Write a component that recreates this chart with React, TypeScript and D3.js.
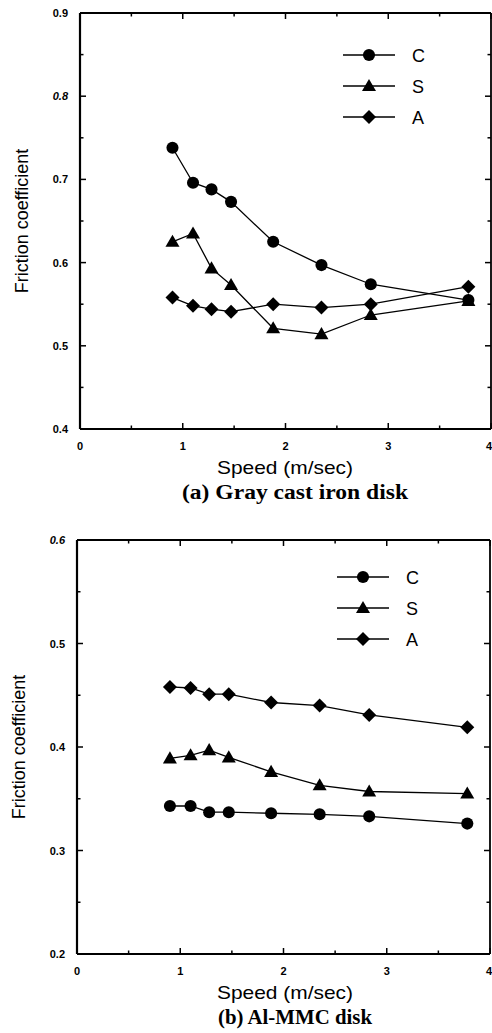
import * as d3 from "d3";

const speeds = [0.9, 1.1, 1.28, 1.47, 1.88, 2.35, 2.83, 3.78];

const grayC = [0.738, 0.696, 0.688, 0.673, 0.625, 0.597, 0.574, 0.555];
const grayS = [0.625, 0.635, 0.593, 0.573, 0.521, 0.514, 0.537, 0.554];
const grayA = [0.558, 0.548, 0.544, 0.541, 0.550, 0.546, 0.550, 0.571];

const mmcC = [0.343, 0.343, 0.337, 0.337, 0.336, 0.335, 0.333, 0.326];
const mmcS = [0.389, 0.392, 0.397, 0.390, 0.376, 0.363, 0.357, 0.355];
const mmcA = [0.458, 0.457, 0.451, 0.451, 0.443, 0.440, 0.431, 0.419];

const seriesNames = ["C", "S", "A"];
const markerKinds = ["circle", "triangle", "diamond"];

const xTicks = [0, 1, 2, 3, 4];
const xMinor = [0.5, 1.5, 2.5, 3.5];
const grayYTicks = ["0.4", "0.5", "0.6", "0.7", "0.8", "0.9"];
const mmcYTicks = ["0.2", "0.3", "0.4", "0.5", "0.6"];
const italicLabels = ["0.8-a", "0.6-b"];

const W = 492;
const H = 1033;
const SANS = "'Liberation Sans', Arial, sans-serif";
const SERIF = "'Liberation Serif', 'Times New Roman', serif";

function markerPath(kind: string) {
  if (kind === "circle") return d3.symbol(d3.symbolCircle, 115)()!;
  if (kind === "triangle") return d3.symbol(d3.symbolTriangle, 85)()!;
  return d3.symbol(d3.symbolSquare, 98)()!;
}

function Marker({ kind, x, y }: { kind: string; x: number; y: number }) {
  const rot = kind === "diamond" ? " rotate(45)" : "";
  const dy = kind === "triangle" ? 1 : 0;
  return <path d={markerPath(kind)} transform={`translate(${x},${y + dy})${rot}`} fill="#000" />;
}

type PanelProps = {
  id: string;
  left: number;
  right: number;
  top: number;
  bottom: number;
  yTicks: string[];
  series: number[][];
  legendX: number;
  legendY: number;
  caption: string;
  captionWidth: number;
};

function Panel(p: PanelProps) {
  const yMin = +p.yTicks[0];
  const yMax = +p.yTicks[p.yTicks.length - 1];
  const x = d3.scaleLinear().domain([0, 4]).range([p.left, p.right]);
  const y = d3.scaleLinear().domain([yMin, yMax]).range([p.bottom, p.top]);
  const yMinor = p.yTicks.slice(0, -1).map((t) => +t + 0.05);
  const line = d3
    .line<number>()
    .x((_, i) => x(speeds[i]))
    .y((d) => y(d));
  const cx = 285;

  return (
    <g>
      {/* frame */}
      <line x1={p.left} x2={p.left} y1={p.top} y2={p.bottom} stroke="#000" strokeWidth={2.2} />
      <line x1={p.left} x2={p.right} y1={p.bottom} y2={p.bottom} stroke="#000" strokeWidth={2.2} />
      <line x1={p.left} x2={p.right} y1={p.top} y2={p.top} stroke="#000" strokeWidth={1.8} />
      <line x1={p.right} x2={p.right} y1={p.top} y2={p.bottom} stroke="#000" strokeWidth={1.8} />

      {/* x ticks */}
      {xTicks.map((t) => (
        <g key={"xt" + t}>
          <line x1={x(t)} x2={x(t)} y1={p.bottom} y2={p.bottom - 6} stroke="#000" strokeWidth={1.5} />
          <line x1={x(t)} x2={x(t)} y1={p.top} y2={p.top + 6} stroke="#000" strokeWidth={1.5} />
          <text
            x={t === 4 ? W : x(t)}
            y={p.bottom + 21}
            textAnchor={t === 4 ? "end" : "middle"}
            fontFamily={SANS}
            fontWeight="bold"
            fontSize={11}
          >
            {t}
          </text>
        </g>
      ))}
      {xMinor.map((t) => (
        <g key={"xm" + t}>
          <line x1={x(t)} x2={x(t)} y1={p.bottom} y2={p.bottom - 3.5} stroke="#000" strokeWidth={1.5} />
          <line x1={x(t)} x2={x(t)} y1={p.top} y2={p.top + 3.5} stroke="#000" strokeWidth={1.5} />
        </g>
      ))}

      {/* y ticks */}
      {p.yTicks.map((t) => (
        <g key={"yt" + t}>
          <line x1={p.left} x2={p.left + 6} y1={y(+t)} y2={y(+t)} stroke="#000" strokeWidth={1.5} />
          <line x1={p.right} x2={p.right - 6} y1={y(+t)} y2={y(+t)} stroke="#000" strokeWidth={1.5} />
          <text
            x={p.left - 12}
            y={y(+t) + 4}
            textAnchor="end"
            fontFamily={SANS}
            fontWeight="bold"
            fontStyle={italicLabels.includes(t + "-" + p.id) ? "italic" : "normal"}
            fontSize={11}
          >
            {t}
          </text>
        </g>
      ))}
      {yMinor.map((t) => (
        <g key={"ym" + t}>
          <line x1={p.left} x2={p.left + 3.5} y1={y(t)} y2={y(t)} stroke="#000" strokeWidth={1.5} />
          <line x1={p.right} x2={p.right - 3.5} y1={y(t)} y2={y(t)} stroke="#000" strokeWidth={1.5} />
        </g>
      ))}

      {/* series */}
      {p.series.map((vals, si) => (
        <g key={"s" + si}>
          <path d={line(vals)!} fill="none" stroke="#000" strokeWidth={1.3} />
          {vals.map((v, i) => (
            <Marker key={i} kind={markerKinds[si]} x={x(speeds[i])} y={y(v)} />
          ))}
        </g>
      ))}

      {/* legend */}
      {seriesNames.map((name, i) => {
        const ly = p.legendY + i * 31;
        return (
          <g key={"lg" + name}>
            <line x1={p.legendX} x2={p.legendX + 52} y1={ly} y2={ly} stroke="#000" strokeWidth={1.3} />
            <Marker kind={markerKinds[i]} x={p.legendX + 26} y={ly} />
            <text x={p.legendX + 69} y={ly + 7} fontFamily={SANS} fontSize={18}>
              {name}
            </text>
          </g>
        );
      })}

      {/* labels */}
      <text
        transform={`translate(${p.left - 52},${(p.top + p.bottom) / 2}) rotate(-90)`}
        textAnchor="middle"
        fontFamily={SANS}
        fontSize={18}
      >
        Friction coefficient
      </text>
      <text
        x={cx}
        y={p.bottom + 45}
        textAnchor="middle"
        fontFamily={SANS}
        fontSize={19}
        textLength={136}
        lengthAdjust="spacingAndGlyphs"
      >
        Speed (m/sec)
      </text>
      <text
        x={cx + 10}
        y={p.bottom + 70}
        textAnchor="middle"
        fontFamily={SERIF}
        fontWeight="bold"
        fontSize={20}
        textLength={p.captionWidth}
        lengthAdjust="spacingAndGlyphs"
      >
        {p.caption}
      </text>
    </g>
  );
}

export default function App() {
  return (
    <div style={{ position: "absolute", left: 0, top: 0, width: W, height: H, background: "#fff" }}>
      <svg width={W} height={H} style={{ display: "block" }}>
        <Panel
          id="a"
          left={80}
          right={491}
          top={13}
          bottom={429}
          yTicks={grayYTicks}
          series={[grayC, grayS, grayA]}
          legendX={343}
          legendY={55}
          caption="(a) Gray cast iron disk"
          captionWidth={226}
        />
        <Panel
          id="b"
          left={77}
          right={490}
          top={540}
          bottom={954}
          yTicks={mmcYTicks}
          series={[mmcC, mmcS, mmcA]}
          legendX={337}
          legendY={577}
          caption="(b) Al-MMC disk"
          captionWidth={154}
        />
      </svg>
    </div>
  );
}
